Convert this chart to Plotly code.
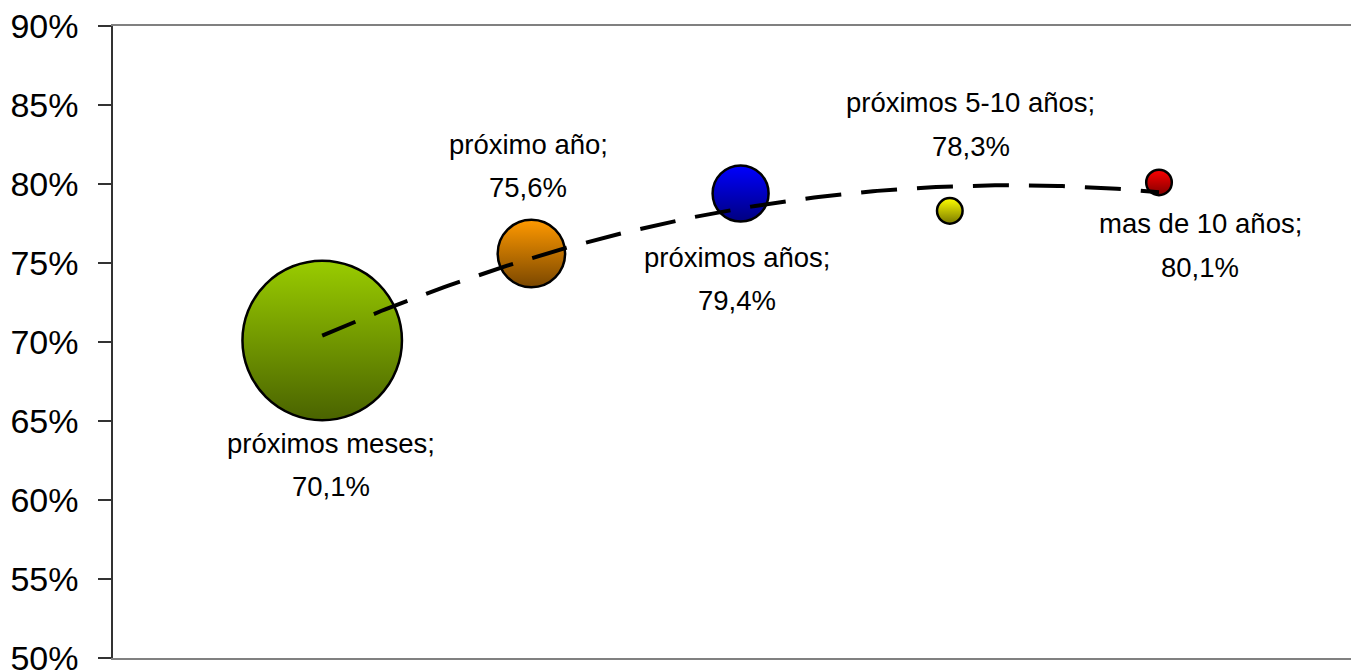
import numpy as np
import plotly.graph_objects as go

# ---- data ----
categories = ["próximos meses", "próximo año", "próximos años", "próximos 5-10 años", "mas de 10 años"]
x_pos = [1, 2, 3, 4, 5]
pct_values = [70.1, 75.6, 79.4, 78.3, 80.1]
bubble_sizes = [73.9, 13.2, 9.1, 1.9, 1.9]  # estimated relative bubble sizes
value_labels = ["70,1%", "75,6%", "79,4%", "78,3%", "80,1%"]
y_ticks = [50, 55, 60, 65, 70, 75, 80, 85, 90]

# ---- styles ----
top_colors = ["#99CC00", "#FF9900", "#0000FF", "#FFFF00", "#FF0000"]
bottom_colors = ["#4A6300", "#7A4700", "#000080", "#7A7A00", "#800000"]
# (xshift, yshift line 1, yshift line 2) in pixels
label_shift = [(9, -103, -146), (-3, 109, 66), (-4, -64, -107), (21, 108, 64), (41, -41, -85)]
FONT = "Liberation Sans Narrow, Arial Narrow, Liberation Sans, Arial, sans-serif"

max_diam = 159.5
sizeref = 2.0 * max(bubble_sizes) / (max_diam ** 2)

fig = go.Figure()

fig.add_trace(go.Scatter(
    x=x_pos, y=pct_values, mode="markers",
    marker=dict(
        size=bubble_sizes, sizemode="area", sizeref=sizeref,
        color=top_colors,
        gradient=dict(type="vertical", color=bottom_colors),
        line=dict(color="black", width=2.5),
        opacity=1,
    ),
    hoverinfo="skip",
))

# polynomial (order 2) trendline fitted to the data
coef = np.polyfit(x_pos, pct_values, 2)
xt = np.linspace(min(x_pos), max(x_pos), 200)
yt = np.polyval(coef, xt)
fig.add_trace(go.Scatter(
    x=xt, y=yt, mode="lines",
    line=dict(color="black", width=4, dash="36px,20px"),
    hoverinfo="skip",
))

for i, cat in enumerate(categories):
    dx, dy1, dy2 = label_shift[i]
    for txt, dy in ((f"{cat};", dy1), (value_labels[i], dy2)):
        fig.add_annotation(
            x=x_pos[i], y=pct_values[i], xref="x", yref="y",
            text=txt, showarrow=False, xanchor="center", yanchor="middle",
            xshift=dx, yshift=dy,
            font=dict(family=FONT, size=27.5, color="black"),
        )

fig.update_layout(
    width=1359, height=672,
    margin=dict(l=105, r=8, t=18, b=22),
    paper_bgcolor="white", plot_bgcolor="white",
    showlegend=False,
    xaxis=dict(
        range=[0, 5.956], showline=True, linecolor="#808080", linewidth=2,
        mirror=True, showticklabels=False, ticks="", showgrid=False, zeroline=False,
        automargin=False,
    ),
    yaxis=dict(
        range=[50, 90], tickvals=y_ticks, ticktext=[f"{v}%" for v in y_ticks],
        showline=True, linecolor="#333333", linewidth=1.5,
        ticks="outside", ticklen=13, tickwidth=1.5, tickcolor="#333333",
        tickfont=dict(family=FONT, size=34, color="black"),
        ticklabelstandoff=13, ticklabeloverflow="allow", automargin=False,
        showgrid=False, zeroline=False,
    ),
)

fig.write_html("out.html")
